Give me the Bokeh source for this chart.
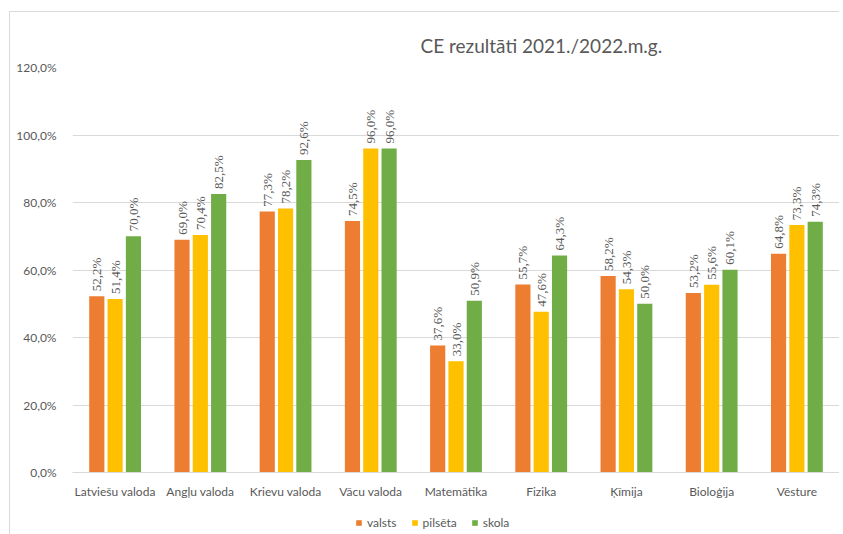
import math
from bokeh.plotting import figure
from bokeh.layouts import column
from bokeh.models import (Range1d, FixedTicker, ColumnDataSource, LabelSet,
                          Legend, LegendItem)
from bokeh.embed import file_html
from bokeh.resources import INLINE

categories = ["Latviešu valoda", "Angļu valoda", "Krievu valoda", "Vācu valoda",
              "Matemātika", "Fizika", "Ķīmija", "Bioloģija", "Vēsture"]
series_names = ["valsts", "pilsēta", "skola"]
valsts = [52.2, 69.0, 77.3, 74.5, 37.6, 55.7, 58.2, 53.2, 64.8]
pilseta = [51.4, 70.4, 78.2, 96.0, 33.0, 47.6, 54.3, 55.6, 73.3]
skola = [70.0, 82.5, 92.6, 96.0, 50.9, 64.3, 50.0, 60.1, 74.3]
colors = ["#ED7D31", "#FFC000", "#70AD47"]
y_ticks = [0, 20, 40, 60, 80, 100, 120]
y_tick_labels = ["0,0%", "20,0%", "40,0%", "60,0%", "80,0%", "100,0%", "120,0%"]
title_text = "CE rezultāti 2021./2022.m.g."

FONT = "Lato"
GRAY = "#595959"

p = figure(width=829, height=489, output_backend="svg", toolbar_location=None,
           x_range=Range1d(0, len(categories)), y_range=Range1d(0, 120),
           min_border_left=62, min_border_right=0, min_border_top=55, min_border_bottom=29,
           title=title_text)
p.outline_line_color = None
p.background_fill_color = "white"
p.border_fill_color = "white"

p.title.text_font = FONT
p.title.text_font_size = "19px"
p.title.text_font_style = "normal"
p.title.text_color = GRAY
p.title.align = "left"
p.title.offset = 348
p.title.standoff = 21

# axes
p.xaxis.ticker = FixedTicker(ticks=[i + 0.5 for i in range(len(categories))])
p.xaxis.major_label_overrides = {i + 0.5: c for i, c in enumerate(categories)}
p.xaxis.major_tick_line_color = None
p.xaxis.minor_tick_line_color = None
p.xaxis.axis_line_color = "#D9D9D9"
p.xaxis.major_label_text_font = FONT
p.xaxis.major_label_text_font_size = "12px"
p.xaxis.major_label_text_color = GRAY
p.xaxis.major_label_standoff = 5

p.yaxis.ticker = FixedTicker(ticks=y_ticks)
p.yaxis.major_label_overrides = {t: l for t, l in zip(y_ticks, y_tick_labels)}
p.yaxis.major_tick_line_color = None
p.yaxis.minor_tick_line_color = None
p.yaxis.axis_line_color = None
p.yaxis.major_label_text_font = FONT
p.yaxis.major_label_text_font_size = "12px"
p.yaxis.major_label_text_color = GRAY
p.yaxis.major_label_standoff = 10

p.xgrid.grid_line_color = None
p.ygrid.grid_line_color = "#D9D9D9"
p.ygrid.grid_line_width = 1

bar_w = 0.178
step = 0.215
all_series = [valsts, pilseta, skola]
for k, (name, vals, col) in enumerate(zip(series_names, all_series, colors)):
    xs = [i + 0.5 + (k - 1) * step for i in range(len(categories))]
    src = ColumnDataSource(dict(x=xs, top=vals,
                                lab=[f"{v:.1f}".replace(".", ",") + "%" for v in vals]))
    p.vbar(x="x", top="top", width=bar_w, source=src, fill_color=col, line_color=None)
    ls = LabelSet(x="x", y="top", text="lab", source=src, angle=math.pi / 2,
                  text_align="left", text_baseline="middle", y_offset=5,
                  text_font=FONT, text_font_size="13px", text_color=GRAY)
    p.add_layout(ls)

# legend strip below the chart (its frame is aligned with the chart's frame)
lg = figure(width=829, height=34, output_backend="svg", toolbar_location=None,
            x_range=Range1d(0, 1), y_range=Range1d(0, 1),
            min_border_left=0, min_border_right=0, min_border_top=0, min_border_bottom=0)
lg.axis.visible = False
lg.grid.visible = False
lg.outline_line_color = None
items = []
for name, col in zip(series_names, colors):
    r = lg.vbar(x=[5], top=[5], bottom=[4], width=0.1, fill_color=col, line_color=None)
    items.append(LegendItem(label=name, renderers=[r]))
legend = Legend(items=items, orientation="horizontal", location=(283, 5),
                label_text_font=FONT, label_text_font_size="12px",
                label_text_color=GRAY, glyph_width=7, glyph_height=7,
                label_standoff=5, spacing=14, padding=2, margin=0,
                border_line_color=None, background_fill_alpha=0)
lg.add_layout(legend)

layout = column(p, lg, spacing=0, margin=(11, 0, 0, 9),
                styles={"border-left": "1px solid #D9D9D9", "border-top": "1px solid #D9D9D9"})
open("out.html", "w").write(file_html(layout, INLINE))
